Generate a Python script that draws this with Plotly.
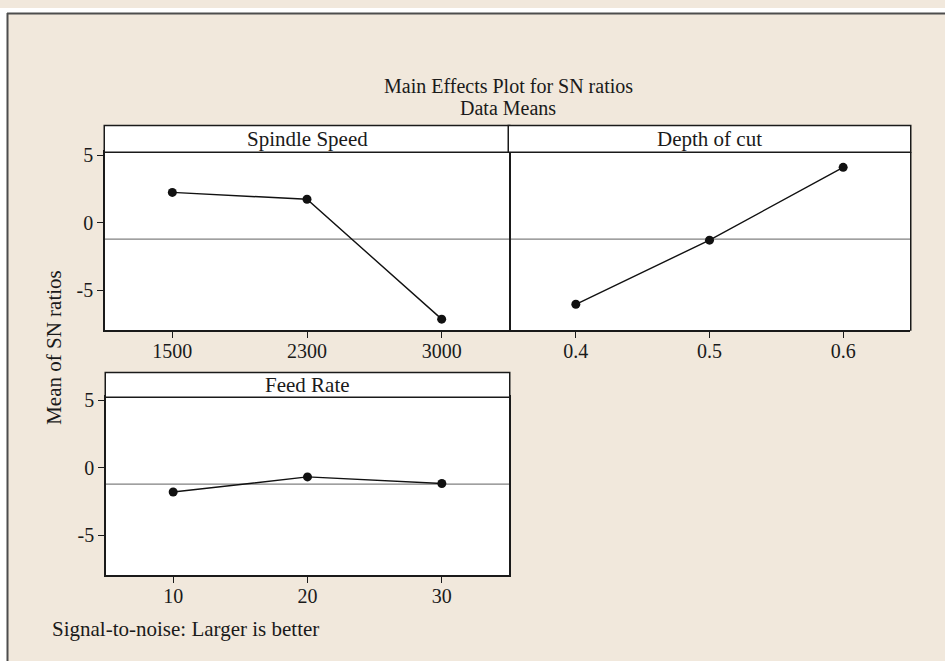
import plotly.graph_objects as go

# ---- data ----
spindle_levels = ["1500", "2300", "3000"]
spindle_sn = [2.26, 1.75, -7.14]

depth_levels = ["0.4", "0.5", "0.6"]
depth_sn = [-6.04, -1.28, 4.12]

feed_levels = ["10", "20", "30"]
feed_sn = [-1.79, -0.67, -1.16]

grand_mean = -1.2
y_ticks = [-5, 0, 5]

panel_titles = ["Spindle Speed", "Depth of cut", "Feed Rate"]
main_title = "Main Effects Plot for SN ratios"
sub_title = "Data Means"
y_title = "Mean of SN ratios"
footer = "Signal-to-noise: Larger is better"

# ---- layout helpers (pixel -> paper) ----
W, H = 945, 661
def px(x):
    return x / W
def py(y):
    return 1 - y / H

FONT = "Liberation Serif"
BG = "#f1e8dc"
INK = "#1a1a1a"

fig = go.Figure()

panels = [
    # (x-axis id, y-axis id, levels, values, x0, x1, strip_top, plot_top, plot_bottom)
    ("x", "y", spindle_levels, spindle_sn, 105, 509, 119, 146, 326),
    ("x2", "y2", depth_levels, depth_sn, 509, 910, 119, 146, 326),
    ("x3", "y3", feed_levels, feed_sn, 106, 509, 369, 394, 574),
]

y_range = [-7.95, 5.24]
shapes = []
annotations = []

for i, (xa, ya, levels, vals, x0, x1, st, pt, pb) in enumerate(panels):
    fig.add_trace(go.Scatter(
        x=levels, y=vals, xaxis=xa, yaxis=ya, mode="lines+markers",
        line=dict(color="#111111", width=1.4),
        marker=dict(color="#111111", size=9, symbol="circle"),
        showlegend=False, hoverinfo="x+y",
    ))
    suffix = "" if i == 0 else str(i + 1)
    show_y = i != 1
    fig.update_layout(**{
        "xaxis" + suffix: dict(
            domain=[px(x0), px(x1)], anchor=ya, type="category",
            range=[-0.5, 2.5], showgrid=False, zeroline=False,
            showline=True, mirror=True, linecolor=INK, linewidth=1.5,
            ticks="outside", ticklen=6, tickcolor=INK, tickwidth=1.2,
            ticklabelstandoff=-4,
            tickfont=dict(family=FONT, size=20, color=INK),
            fixedrange=True,
        ),
        "yaxis" + suffix: dict(
            domain=[py(pb), py(pt)], anchor=xa, range=y_range,
            tickvals=y_ticks, ticktext=[str(v) for v in y_ticks],
            showgrid=False, zeroline=False,
            showline=show_y, mirror=True, linecolor=INK, linewidth=1.5,
            ticks="outside" if show_y else "", ticklen=6,
            tickcolor=INK, tickwidth=1.2,
            showticklabels=show_y,
            tickfont=dict(family=FONT, size=20, color=INK),
            fixedrange=True,
        ),
    })
    if not show_y:
        # right edge of the right-hand panel
        shapes.append(dict(type="line", xref="paper", yref="paper",
                           x0=px(x1 + 0.75), x1=px(x1 + 0.75), y0=py(pb + 0.75), y1=py(pt),
                           line=dict(color=INK, width=1.5)))
    # strip
    shapes.append(dict(type="rect", xref="paper", yref="paper",
                       x0=px(x0 - 0.75), x1=px(x1 + 0.75), y0=py(pt), y1=py(st),
                       fillcolor="white", line=dict(color=INK, width=1.5)))
    annotations.append(dict(text=panel_titles[i], xref="paper", yref="paper",
                            x=px((x0 + x1) / 2), y=py((st + pt) / 2),
                            xanchor="center", yanchor="middle", showarrow=False,
                            font=dict(family=FONT, size=21, color=INK)))
    # grand mean reference line
    shapes.append(dict(type="line", xref=xa + " domain", yref=ya,
                       x0=0, x1=1, y0=grand_mean, y1=grand_mean,
                       line=dict(color="#808080", width=1.3), layer="below"))

# white margins outside the framed beige area
shapes.append(dict(type="rect", xref="paper", yref="paper", x0=0, x1=1,
                   y0=py(5), y1=1, fillcolor="white", line=dict(width=0), layer="below"))
shapes.append(dict(type="rect", xref="paper", yref="paper", x0=0, x1=px(7),
                   y0=0, y1=1, fillcolor="white", line=dict(width=0), layer="below"))
# frame lines
shapes.append(dict(type="line", xref="paper", yref="paper", x0=px(7), x1=1.0,
                   y0=py(5.5), y1=py(5.5), line=dict(color="#4d4d4d", width=2)))
shapes.append(dict(type="line", xref="paper", yref="paper", x0=px(7.5), x1=px(7.5),
                   y0=0, y1=py(5), line=dict(color="#4d4d4d", width=2)))

annotations += [
    dict(text=main_title, xref="paper", yref="paper", x=px(508), y=py(78.5),
         xanchor="center", yanchor="middle", showarrow=False,
         font=dict(family=FONT, size=20, color=INK)),
    dict(text=sub_title, xref="paper", yref="paper", x=px(508), y=py(101.5),
         xanchor="center", yanchor="middle", showarrow=False,
         font=dict(family=FONT, size=20, color=INK)),
    dict(text=y_title, xref="paper", yref="paper", x=px(54), y=py(344),
         xanchor="center", yanchor="middle", showarrow=False, textangle=-90,
         font=dict(family=FONT, size=21, color=INK)),
    dict(text=footer, xref="paper", yref="paper", x=px(50), y=py(629),
         xanchor="left", yanchor="middle", showarrow=False,
         font=dict(family=FONT, size=21, color=INK)),
]

fig.update_layout(
    width=W, height=H,
    margin=dict(l=0, r=0, t=0, b=0),
    paper_bgcolor=BG, plot_bgcolor="white",
    shapes=shapes, annotations=annotations,
    showlegend=False,
)

fig.write_html(
    "out.html",
    config={"displayModeBar": False},
    post_script=(
        "document.documentElement.style.margin='0';"
        "document.body.style.margin='0';document.body.style.overflow='hidden';"
        "var gd=document.getElementById('{plot_id}');"
        "gd.style.position='fixed';gd.style.left='0px';gd.style.top='0px';"
    ),
)
